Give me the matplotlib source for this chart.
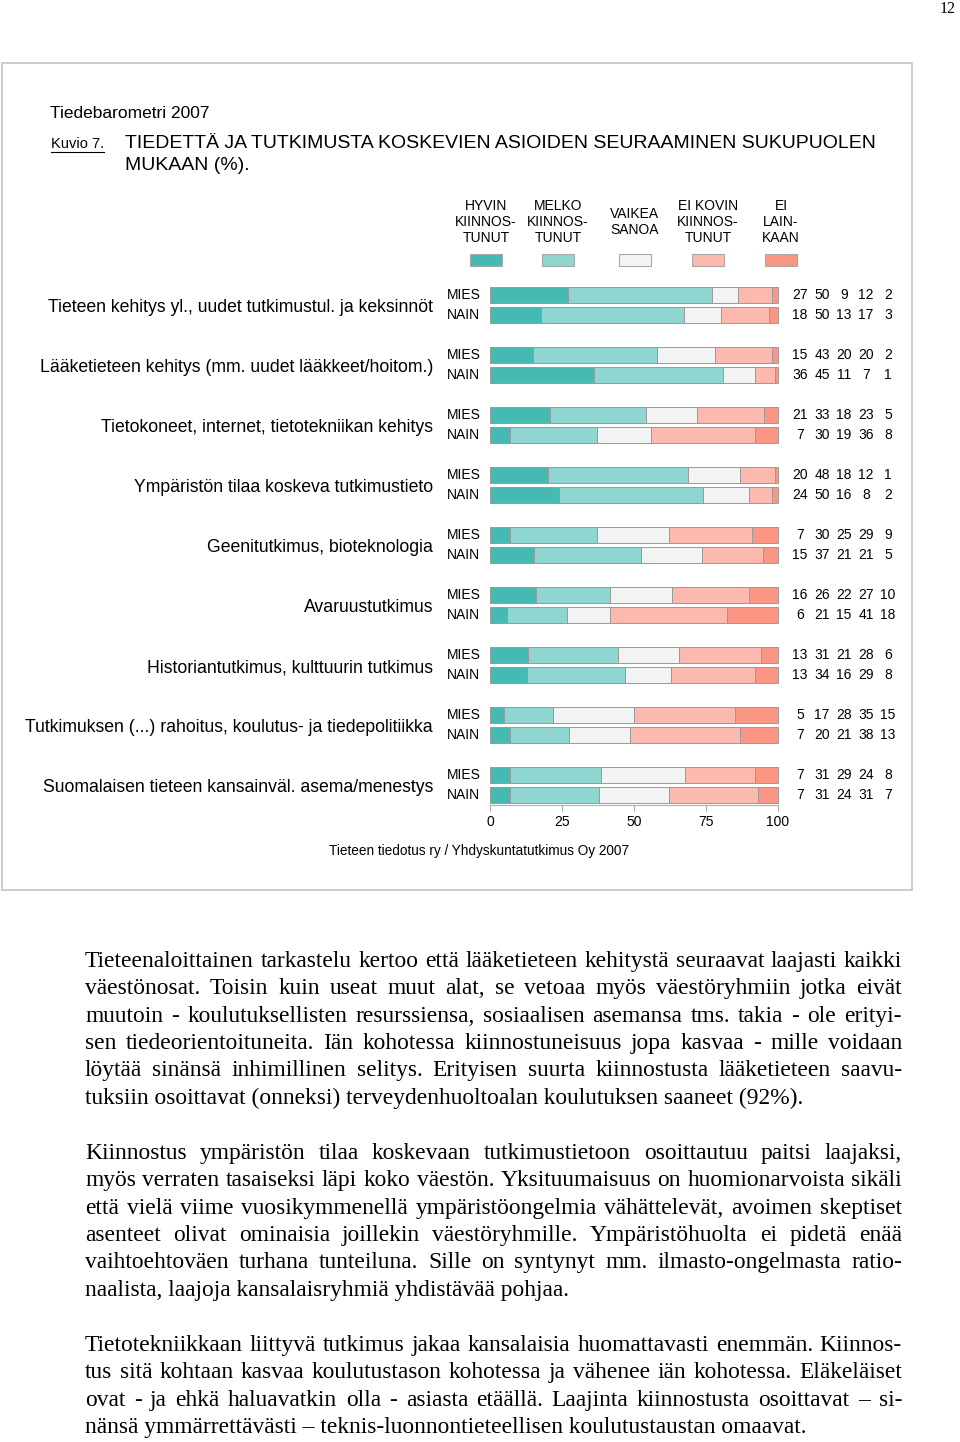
import numpy as np
import matplotlib
matplotlib.use("Agg")
import matplotlib.pyplot as plt
from matplotlib.patches import Rectangle
from matplotlib.transforms import blended_transform_factory

# --- data ---------------------------------------------------------------------
categories = [
    "Tieteen kehitys yl., uudet tutkimustul. ja keksinnöt",
    "Lääketieteen kehitys (mm. uudet lääkkeet/hoitom.)",
    "Tietokoneet, internet, tietotekniikan kehitys",
    "Ympäristön tilaa koskeva tutkimustieto",
    "Geenitutkimus, bioteknologia",
    "Avaruustutkimus",
    "Historiantutkimus, kulttuurin tutkimus",
    "Tutkimuksen (...) rahoitus, koulutus- ja tiedepolitiikka",
    "Suomalaisen tieteen kansainväl. asema/menestys",
]
answers = ["HYVIN\nKIINNOS-\nTUNUT", "MELKO\nKIINNOS-\nTUNUT", "VAIKEA\nSANOA",
           "EI KOVIN\nKIINNOS-\nTUNUT", "EI\nLAIN-\nKAAN"]
groups = ["MIES", "NAIN"]
mies = [[27, 50, 9, 12, 2], [15, 43, 20, 20, 2], [21, 33, 18, 23, 5],
        [20, 48, 18, 12, 1], [7, 30, 25, 29, 9], [16, 26, 22, 27, 10],
        [13, 31, 21, 28, 6], [5, 17, 28, 35, 15], [7, 31, 29, 24, 8]]
nain = [[18, 50, 13, 17, 3], [36, 45, 11, 7, 1], [7, 30, 19, 36, 8],
        [24, 50, 16, 8, 2], [15, 37, 21, 21, 5], [6, 21, 15, 41, 18],
        [13, 34, 16, 29, 8], [7, 20, 21, 38, 13], [7, 31, 24, 31, 7]]
xticks = [0, 25, 50, 75, 100]

paragraphs = [
    ["Tieteenaloittainen tarkastelu kertoo että lääketieteen kehitystä seuraavat laajasti kaikki",
     "väestönosat. Toisin kuin useat muut alat, se vetoaa myös väestöryhmiin jotka eivät",
     "muutoin - koulutuksellisten resurssiensa, sosiaalisen asemansa tms. takia - ole erityi-",
     "sen tiedeorientoituneita. Iän kohotessa kiinnostuneisuus jopa kasvaa - mille voidaan",
     "löytää sinänsä inhimillinen selitys. Erityisen suurta kiinnostusta lääketieteen saavu-",
     "tuksiin osoittavat (onneksi) terveydenhuoltoalan koulutuksen saaneet (92%)."],
    ["Kiinnostus ympäristön tilaa koskevaan tutkimustietoon osoittautuu paitsi laajaksi,",
     "myös verraten tasaiseksi läpi koko väestön. Yksituumaisuus on huomionarvoista sikäli",
     "että vielä viime vuosikymmenellä ympäristöongelmia vähättelevät, avoimen skeptiset",
     "asenteet olivat ominaisia joillekin väestöryhmille. Ympäristöhuolta ei pidetä enää",
     "vaihtoehtoväen turhana tunteiluna. Sille on syntynyt mm. ilmasto-ongelmasta ratio-",
     "naalista, laajoja kansalaisryhmiä yhdistävää pohjaa."],
    ["Tietotekniikkaan liittyvä tutkimus jakaa kansalaisia huomattavasti enemmän. Kiinnos-",
     "tus sitä kohtaan kasvaa koulutustason kohotessa ja vähenee iän kohotessa. Eläkeläiset",
     "ovat - ja ehkä haluavatkin olla - asiasta etäällä. Laajinta kiinnostusta osoittavat – si-",
     "nänsä ymmärrettävästi – teknis-luonnontieteellisen koulutustaustan omaavat."],
]

colors = ["#45bab3", "#8fd6d1", "#f3f3f3", "#fcb9ae", "#fb9584"]
SANS = "Liberation Sans"
SERIF = "Liberation Serif"

W, H = 960, 1442
fig = plt.figure(figsize=(W / 100, H / 100), dpi=100)
page = fig.add_axes([0, 0, 1, 1])
page.set_xlim(0, W)
page.set_ylim(H, 0)
page.axis("off")
renderer = fig.canvas.get_renderer()

# page number and figure frame
page.text(948, 9, "12", family=SERIF, fontsize=11.5, ha="center", va="center")
page.add_patch(Rectangle((2, 63), 910, 827, fill=False, edgecolor="#c8c8c8", lw=1.3))

# headings
page.text(50, 113, "Tiedebarometri 2007", family=SANS, fontsize=12.5, va="center")
kv = page.text(51, 144, "Kuvio 7.", family=SANS, fontsize=10.5, va="center")
bb = kv.get_window_extent(renderer)
page.plot([bb.x0, bb.x1], [152, 152], color="black", lw=0.8)
page.text(125, 144, "TIEDETTÄ JA TUTKIMUSTA KOSKEVIEN ASIOIDEN SEURAAMINEN SUKUPUOLEN",
          family=SANS, fontsize=14, va="center")
page.text(125, 166, "MUKAAN (%).", family=SANS, fontsize=14, va="center")

# legend
leg_x = [486, 558, 635, 708, 781]
for cx, lab, c in zip(leg_x, answers, colors):
    page.text(cx, 222, lab, family=SANS, fontsize=10, ha="center", va="center",
              linespacing=1.15)
    page.add_patch(Rectangle((cx - 16, 254), 32, 12, facecolor=c, edgecolor="#a8a8a8", lw=0.8))

# --- bar chart ----------------------------------------------------------------
ax = fig.add_axes([490 / W, 1 - 805 / H, 288 / W, 520 / H])
ax.set_facecolor("none")
ax.set_xlim(0, 100)
ax.set_ylim(25.5, -0.5)
trans = blended_transform_factory(page.transData, ax.transData)

for i, cat in enumerate(categories):
    ax.text(433, 3 * i + 0.65, cat, transform=trans, family=SANS, fontsize=12.7,
            ha="right", va="center")
    for j, (g, row) in enumerate(zip(groups, (mies[i], nain[i]))):
        y = 3 * i + j
        vals = np.array(row, dtype=float)
        widths = vals * 100.0 / vals.sum()
        lefts = np.cumsum(widths) - widths
        ax.barh(y, widths, left=lefts, height=0.8, color=colors,
                edgecolor="#9a9a9a", linewidth=0.7, clip_on=False)
        ax.text(447, y, g, transform=trans, family=SANS, fontsize=10, va="center")
        for k, v in enumerate(row):
            ax.text(800 + 22 * k, y, str(v), transform=trans, family=SANS,
                    fontsize=10, ha="center", va="center")

ax.set_yticks([])
ax.set_xticks(xticks)
ax.set_xticklabels([str(t) for t in xticks], family=SANS, fontsize=10)
ax.tick_params(axis="x", length=4, color="#b0b0b0", pad=3)
for s in ("left", "right", "top"):
    ax.spines[s].set_visible(False)
ax.spines["bottom"].set_color("#b0b0b0")

page.text(479, 851, "Tieteen tiedotus ry / Yhdyskuntatutkimus Oy 2007",
          family=SANS, fontsize=9.8, ha="center", va="center")

# --- body text (justified) ----------------------------------------------------
X0, X1 = 85, 902
probe = page.text(0, 0, paragraphs[0][-1], family=SERIF, fontsize=10)
fs = 10 * (806 - X0) / probe.get_window_extent(renderer).width
probe.remove()


def draw_line(text, yb, justify):
    if not justify:
        page.text(X0, yb, text, family=SERIF, fontsize=fs, va="baseline")
        return
    words = text.split(" ")
    ts = [page.text(0, yb, w, family=SERIF, fontsize=fs, va="baseline") for w in words]
    ws = [t.get_window_extent(renderer).width for t in ts]
    gap = (X1 - X0 - sum(ws)) / (len(words) - 1)
    x = X0
    for t, w in zip(ts, ws):
        t.set_x(x)
        x += w + gap


starts = [960, 1152, 1344]
step = 27.35
for start, lines in zip(starts, paragraphs):
    for n, line in enumerate(lines):
        draw_line(line, start + n * step + 7, n < len(lines) - 1)

fig.savefig("out.png", dpi=100)
